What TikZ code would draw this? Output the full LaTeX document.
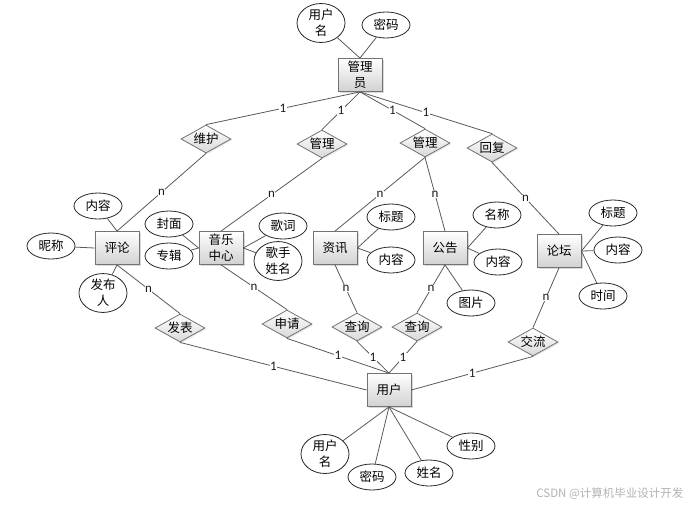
\documentclass[tikz,border=0pt]{standalone}
\usepackage{fontspec}
\setmainfont{Carlito}
\newfontfamily\cjk{Noto Sans CJK SC}
\usetikzlibrary{shapes.geometric,shadows}
\tikzset{
  cjkfont/.style={font=\cjk\fontsize{12.5}{16}\selectfont},
  ent/.style={rectangle, draw=black!55, line width=0.8pt, top color=white, bottom color=black!18,
    minimum width=44pt, minimum height=33pt, inner sep=0pt, align=center, cjkfont,
    drop shadow={shadow xshift=1.6pt, shadow yshift=-1.6pt, opacity=0.3}},
  attr/.style={ellipse, draw=black!85, line width=0.8pt, fill=white, minimum width=48pt,
    minimum height=26pt, inner sep=0pt, align=center, cjkfont},
  attrtwo/.style={attr, minimum height=33pt},
  rel/.style={diamond, draw=black!55, line width=0.8pt, top color=white, bottom color=black!15,
    minimum width=50pt, minimum height=28pt, aspect=1.8, inner sep=0pt, cjkfont,
    drop shadow={shadow xshift=1.2pt, shadow yshift=-1.2pt, opacity=0.2}},
  lnk/.style={draw=black!65, line width=0.8pt},
  lbl/.style={font=\fontsize{13}{13}\selectfont, fill=white, inner sep=0.5pt, text=black!90}
}
\begin{document}
\begin{tikzpicture}[x=1pt,y=-1pt]
\useasboundingbox (0,0) rectangle (693,509);

% entities
\node[ent] (adm) at (360,75) {管理\\员};
\node[ent] (pl) at (117,248) {评论};
\node[ent] (yy) at (221,248) {音乐\\中心};
\node[ent] (zx) at (335,248) {资讯};
\node[ent] (gg) at (445,248) {公告};
\node[ent] (lt) at (559,251) {论坛};
\node[ent] (yh) at (389,390) {用户};

% relations
\node[rel] (whu) at (206,139) {维护};
\node[rel] (gla) at (322,144) {管理};
\node[rel] (glb) at (425,143) {管理};
\node[rel] (hf) at (492,148) {回复};
\node[rel] (fb) at (180,328) {发表};
\node[rel] (sq) at (287,324) {申请};
\node[rel] (cxa) at (357,327) {查询};
\node[rel] (cxb) at (417,327) {查询};
\node[rel] (jl) at (533,342) {交流};

% attributes
\node[attrtwo] (admU) at (321,23) {用户\\名};
\node[attr] (admP) at (386,25) {密码};
\node[attr] (plN) at (98,206) {内容};
\node[attr] (plC) at (51,246) {昵称};
\node[attrtwo] (plF) at (103,293) {发布\\人};
\node[attr] (fm) at (169,224) {封面};
\node[attr] (zj) at (169,256) {专辑};
\node[attr] (gc) at (283,226) {歌词};
\node[attrtwo] (gs) at (278,261) {歌手\\姓名};
\node[attr] (zxT) at (391,217) {标题};
\node[attr] (zxN) at (391,260) {内容};
\node[attr] (ggM) at (497,215) {名称};
\node[attr] (ggN) at (498,262) {内容};
\node[attr] (ggP) at (471,303) {图片};
\node[attr] (ltT) at (613,213) {标题};
\node[attr] (ltN) at (618,250) {内容};
\node[attr] (ltS) at (603,296) {时间};
\node[attrtwo] (yhU) at (325,454) {用户\\名};
\node[attr] (yhP) at (372,477) {密码};
\node[attr] (yhX) at (429,473) {姓名};
\node[attr] (yhS) at (471,446) {性别};

% attribute links
\draw[lnk] (admU) -- (adm.north);
\draw[lnk] (admP) -- (adm.north);
\draw[lnk] (plN) -- (pl.north);
\draw[lnk] (plC) -- (pl.west);
\draw[lnk] (plF) -- (pl.south);
\draw[lnk] (fm) -- (yy.west);
\draw[lnk] (zj) -- (yy.west);
\draw[lnk] (gc) -- (yy.east);
\draw[lnk] (gs) -- (yy.east);
\draw[lnk] (zxT) -- (zx.east);
\draw[lnk] (zxN) -- (zx.east);
\draw[lnk] (ggM) -- (gg.east);
\draw[lnk] (ggN) -- (gg.east);
\draw[lnk] (ggP) -- (gg.south);
\draw[lnk] (ltT) -- (lt.east);
\draw[lnk] (ltN) -- (lt.east);
\draw[lnk] (ltS) -- (lt.east);
\draw[lnk] (yhU) -- (yh.south);
\draw[lnk] (yhP) -- (yh.south);
\draw[lnk] (yhX) -- (yh.south);
\draw[lnk] (yhS) -- (yh.south);

% relationship links
\draw[lnk] (adm.south) -- node[lbl] {1} (whu.north);
\draw[lnk] (adm.south) -- node[lbl] {1} (gla.north);
\draw[lnk] (adm.south) -- node[lbl] {1} (glb.north);
\draw[lnk] (adm.south) -- node[lbl] {1} (hf.north);
\draw[lnk] (whu.south) -- node[lbl] {n} (pl.north);
\draw[lnk] (gla.south) -- node[lbl] {n} (yy.north);
\draw[lnk] (glb.south) -- node[lbl] {n} (zx.north);
\draw[lnk] (glb.south) -- node[lbl] {n} (gg.north);
\draw[lnk] (hf.south) -- node[lbl] {n} (lt.north);
\draw[lnk] (pl.south) -- node[lbl] {n} (fb.north);
\draw[lnk] (yy.south) -- node[lbl] {n} (sq.north);
\draw[lnk] (zx.south) -- node[lbl] {n} (cxa.north);
\draw[lnk] (gg.south) -- node[lbl] {n} (cxb.north);
\draw[lnk] (lt.south) -- node[lbl] {n} (jl.north);
\draw[lnk] (fb.south) -- node[lbl] {1} (yh.west);
\draw[lnk] (sq.south) -- node[lbl] {1} (yh.north);
\draw[lnk] (cxa.south) -- node[lbl] {1} (yh.north);
\draw[lnk] (cxb.south) -- node[lbl] {1} (yh.north);
\draw[lnk] (jl.south) -- node[lbl] {1} (yh.east);

% watermark
\node[font=\cjk\fontsize{11.5}{13}\selectfont, text=black!30, anchor=east] (wm) at (687,494) {CSDN @计算机毕业设计开发};
\end{tikzpicture}
\end{document}
